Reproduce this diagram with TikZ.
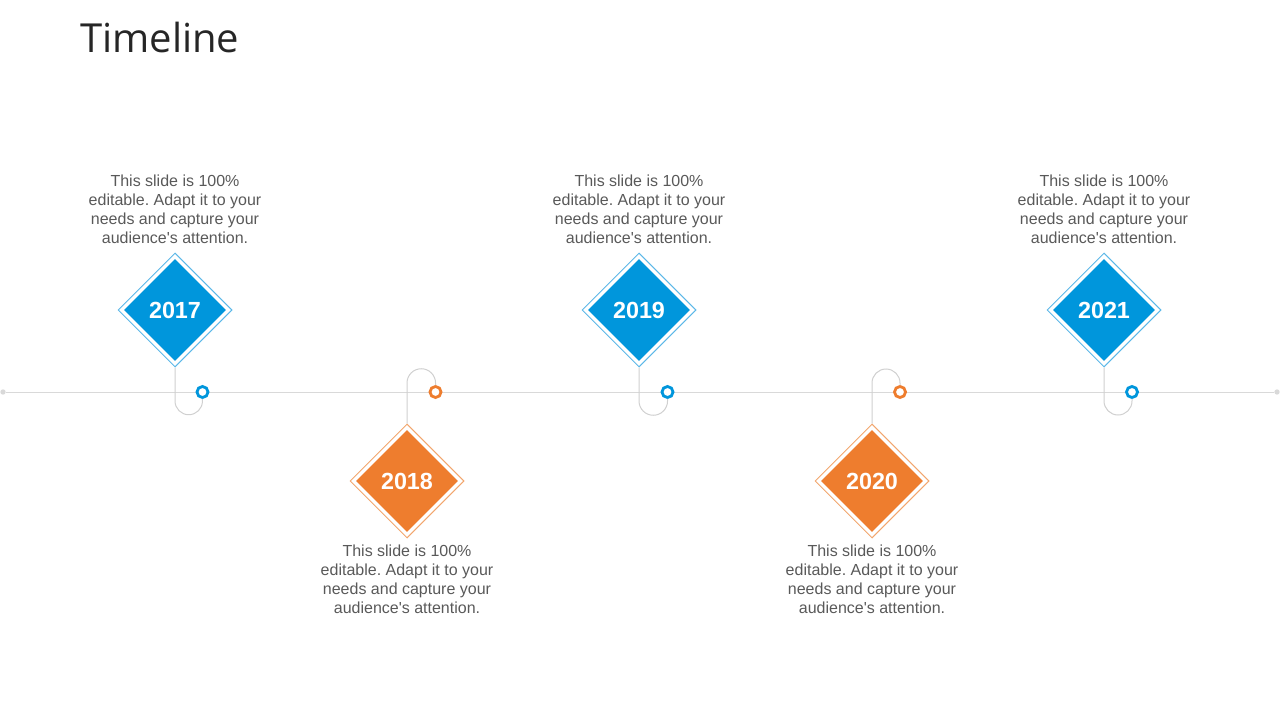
\documentclass[tikz,border=0pt]{standalone}
\usepackage{fontspec}
\setmainfont{Liberation Sans}
\newfontfamily\titlefont{Open Sans}
\usetikzlibrary{shapes.geometric}
\definecolor{tlblue}{HTML}{0096DC}
\definecolor{tlblueL}{HTML}{5CB8E8}
\definecolor{tlorange}{HTML}{EE7D2E}
\definecolor{tlorangeL}{HTML}{F2A66E}
\definecolor{tltext}{HTML}{595959}
\definecolor{tlline}{HTML}{D9D9D9}
\frenchspacing
\newcommand{\tldesc}{This slide is 100\%\\editable. Adapt it to your\\needs and capture your\\audience\textquotesingle s attention.}
\tikzset{
  outerdia/.style={shape=diamond, aspect=1, inner sep=0pt, minimum width=85.5pt, minimum height=85.5pt, draw=#1, line width=0.75pt, fill=white},
  innerdia/.style={shape=diamond, aspect=1, inner sep=0pt, minimum width=76.5pt, minimum height=76.5pt, fill=#1, text=white, font=\fontsize{17.5}{20}\selectfont\bfseries},
  ring/.style={circle, draw=#1, line width=2.1pt, fill=white, inner sep=0pt, minimum size=8.3pt},
  desc/.style={align=center, text=tltext, font=\fontsize{12}{14.25}\selectfont, inner sep=0pt},
  conn/.style={draw=tlline!90!gray, line width=0.75pt},
  enddot/.style={circle, fill=tlline, inner sep=0pt, minimum size=4pt},
}
\begin{document}
\begin{tikzpicture}[x=0.75pt, y=-0.75pt]
\useasboundingbox (0,0) rectangle (1280,720);
% title
\node[anchor=base west, inner sep=0pt, text=black!85, font=\titlefont\fontsize{30}{36}\selectfont] (title) at (80,53) {Timeline};
% timeline
\node[enddot] (L) at (3,392) {};
\node[enddot] (R) at (1277,392) {};
\draw[draw=tlline, line width=0.75pt] (L) -- (R);
% diamonds
\node[outerdia=tlblueL] (o1) at (175,310) {};
\node[innerdia=tlblue] (d1) at (175,310) {2017};
\node[outerdia=tlorangeL] (o2) at (407,481) {};
\node[innerdia=tlorange] (d2) at (407,481) {2018};
\node[outerdia=tlblueL] (o3) at (639,310) {};
\node[innerdia=tlblue] (d3) at (639,310) {2019};
\node[outerdia=tlorangeL] (o4) at (872,481) {};
\node[innerdia=tlorange] (d4) at (872,481) {2020};
\node[outerdia=tlblueL] (o5) at (1104,310) {};
\node[innerdia=tlblue] (d5) at (1104,310) {2021};
% rings
\node[ring=tlblue] (c1) at (202.5,392) {};
\node[ring=tlorange] (c2) at (435.5,392) {};
\node[ring=tlblue] (c3) at (667.5,392) {};
\node[ring=tlorange] (c4) at (900,392) {};
\node[ring=tlblue] (c5) at (1132,392) {};
% connectors
\draw[conn] (o1.south) -- (175,401) arc[start angle=180, end angle=360, radius=10.3pt] -- (c1.south);
\draw[conn] (o3.south) -- (639,401) arc[start angle=180, end angle=360, radius=10.7pt] -- (c3.south);
\draw[conn] (o5.south) -- (1104,401) arc[start angle=180, end angle=360, radius=10.5pt] -- (c5.south);
\draw[conn] (o2.north) -- (407,383) arc[start angle=180, end angle=0, radius=10.7pt] -- (c2.north);
\draw[conn] (o4.north) -- (872,383) arc[start angle=180, end angle=0, radius=10.5pt] -- (c4.north);
% texts
\node[desc, anchor=north] (t1) at (175,175) {\tldesc};
\node[desc, anchor=north] (t2) at (407,545) {\tldesc};
\node[desc, anchor=north] (t3) at (639,175) {\tldesc};
\node[desc, anchor=north] (t4) at (872,545) {\tldesc};
\node[desc, anchor=north] (t5) at (1104,175) {\tldesc};
\end{tikzpicture}
\end{document}
